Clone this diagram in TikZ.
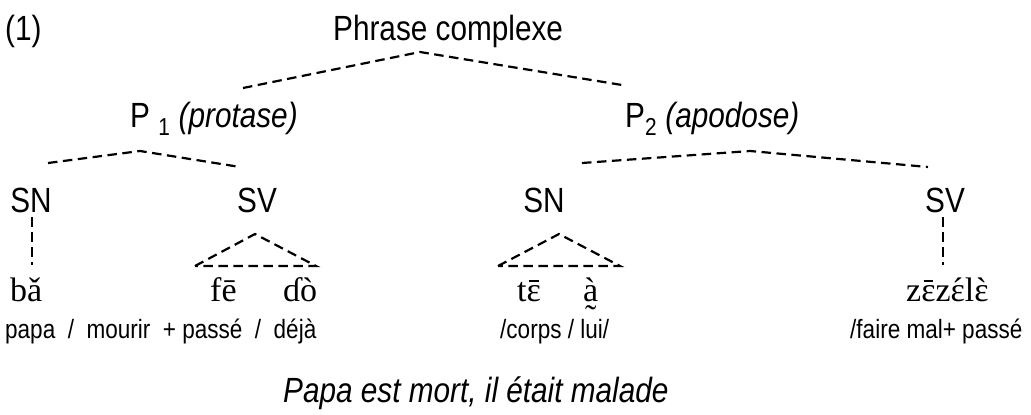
\documentclass[tikz,border=0pt]{standalone}
\usepackage{fontspec}
\setmainfont{Liberation Sans}[FakeStretch=0.85]
\newfontfamily\ipafont{Liberation Serif}[Ligatures=TeXOff]
\newcommand\ovacc[2]{\setbox0=\hbox{#1}\hbox{\copy0\llap{\hbox to\wd0{\hss#2\hss}}}}
\newcommand\macr{\raisebox{0.56em}{\rule{0.29em}{0.045em}}}
\begin{document}
\begin{tikzpicture}[x=1pt,y=-1pt,
  txt/.style={inner sep=0pt,font=\fontsize{35}{40}\selectfont},
  gloss/.style={inner sep=0pt,font=\fontsize{26.5}{30}\selectfont},
  ipa/.style={inner sep=0pt,font=\ipafont\fontsize{34}{40}\selectfont},
  dline/.style={line width=2.2pt,dash pattern=on 9.5pt off 5.5pt}]
\useasboundingbox (0,0) rectangle (1031,415);
% labels
\node[txt,anchor=base west] (ex) at (5,40) {(1)};
\node[txt,anchor=base west] (pc) at (333,40) {Phrase complexe};
\node[txt,anchor=base west] (p1) at (130,127) {P \textsubscript{1} \textit{(protase)}};
\node[txt,anchor=base west] (p2) at (625,127) {P\textsubscript{2} \textit{(apodose)}};
\node[txt,anchor=base] (sn1) at (31,212) {SN};
\node[txt,anchor=base] (sv1) at (257,212) {SV};
\node[txt,anchor=base] (sn2) at (544,212) {SN};
\node[txt,anchor=base] (sv2) at (945,212) {SV};
\node[ipa,anchor=base west] (ba) at (10,301) {bǎ};
\node[ipa,anchor=base west] (fe) at (210,301) {fē};
\node[ipa,anchor=base west] (do) at (283,301) {ɗò};
\node[ipa,anchor=base west] (te) at (517,301) {t\ovacc{ɛ}{\macr}};
\node[ipa,anchor=base west] (aa) at (583,301) {\ovacc{à}{\smash{\raisebox{-0.82em}{˜}}}};
\node[ipa,anchor=base west] (zz) at (906,301) {z\ovacc{ɛ}{\macr}z\ovacc{ɛ}{´}l\ovacc{ɛ}{`}};
\node[gloss,anchor=base west] (g1) at (5,338) {papa\ \ /\ \ mourir\ \ + passé\ \ /\ \ déjà};
\node[gloss,anchor=base west] (g2) at (500,338) {/corps / lui/};
\node[gloss,anchor=base west] (g3) at (850,338) {/faire mal+ passé};
\node[txt,anchor=base west] (tr) at (283,402) {\itshape Papa est mort, il était malade};
% connector points
\coordinate (pcA) at (420,52);
\coordinate (p1T) at (243,88);
\coordinate (p2T) at (622,85);
\coordinate (p1A) at (140,151);
\coordinate (sn1T) at (48,163);
\coordinate (sv1T) at (240,167);
\coordinate (p2A) at (750,151);
\coordinate (sn2T) at (582,163);
\coordinate (sv2T) at (928,167);
\coordinate (sn1B) at (32,217);
\coordinate (baT) at (32,265);
\coordinate (sv2B) at (943,217);
\coordinate (zzT) at (943,265);
\coordinate (sv1A) at (255,234);
\coordinate (feT) at (195,266);
\coordinate (doT) at (316,266);
\coordinate (sn2A) at (559,234);
\coordinate (teT) at (498,266);
\coordinate (aaT) at (620,266);
% connectors
\draw[dline] (p1T) -- (pcA) -- (p2T);
\draw[dline] (sn1T) -- (p1A) -- (sv1T);
\draw[dline] (sn2T) -- (p2A) -- (sv2T);
\draw[dline] (sn1B) -- (baT);
\draw[dline] (sv2B) -- (zzT);
\draw[dline] (feT) -- (sv1A) -- (doT) -- cycle;
\draw[dline] (teT) -- (sn2A) -- (aaT) -- cycle;
\end{tikzpicture}
\end{document}
